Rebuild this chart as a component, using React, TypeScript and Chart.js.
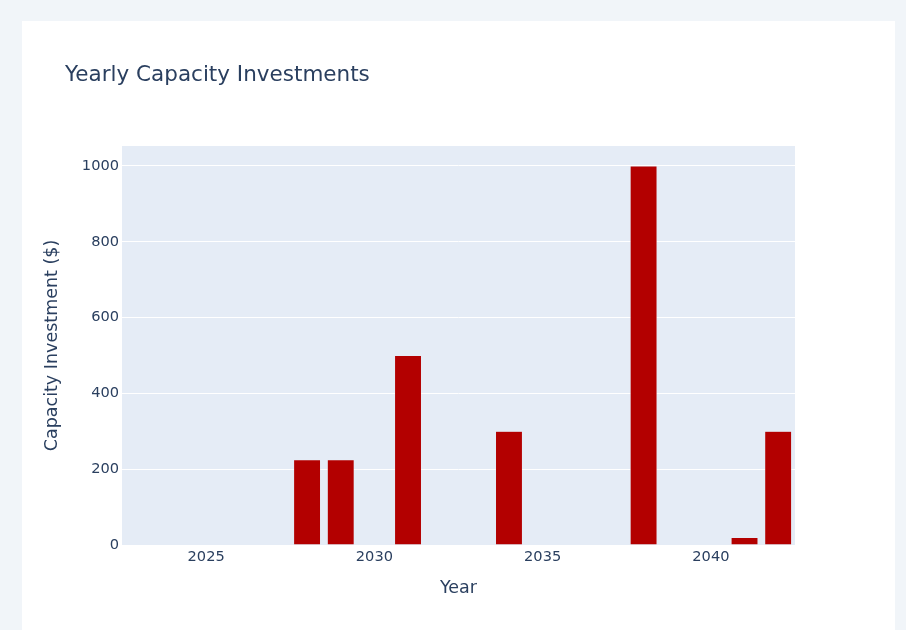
import React, { useEffect, useRef } from "react";
import { Chart, registerables } from "chart.js";

Chart.register(...registerables);

const years: string[] = [
  "2023", "2024", "2025", "2026", "2027", "2028", "2029", "2030", "2031", "2032",
  "2033", "2034", "2035", "2036", "2037", "2038", "2039", "2040", "2041", "2042",
];
const investments: number[] = [
  0, 0, 0, 0, 0, 225, 225, 0, 500, 0,
  0, 300, 0, 0, 0, 1000, 0, 0, 20, 300,
];
const yTicks: number[] = [0, 200, 400, 600, 800, 1000];
const xTickYears: string[] = ["2025", "2030", "2035", "2040"];

const titleText = "Yearly Capacity Investments";
const xTitle = "Year";
const yTitle = "Capacity Investment ($)";

const FONT = '"DejaVu Sans", Verdana, sans-serif';
const TEXT = "#2a3f5f";

const backgroundPlugin = {
  id: "pageBackground",
  beforeDraw(chart: any) {
    const { ctx, chartArea } = chart;
    ctx.save();
    ctx.fillStyle = "#f1f5f9";
    ctx.fillRect(0, 0, chart.width, chart.height);
    ctx.fillStyle = "#ffffff";
    ctx.fillRect(22, 21, 873, chart.height);
    ctx.fillStyle = "#e5ecf6";
    ctx.fillRect(chartArea.left, chartArea.top, chartArea.right - chartArea.left, chartArea.bottom - chartArea.top);
    ctx.restore();
  },
  afterDraw(chart: any) {
    const { ctx } = chart;
    ctx.save();
    ctx.font = `21.5px ${FONT}`;
    ctx.fillStyle = TEXT;
    ctx.textAlign = "left";
    ctx.textBaseline = "alphabetic";
    ctx.fillText(titleText, 65, 81);
    ctx.restore();
  },
};

export default function App() {
  const ref = useRef<HTMLCanvasElement | null>(null);

  useEffect(() => {
    if (!ref.current) return;
    const chart = new Chart(ref.current, {
      type: "bar",
      data: {
        labels: years,
        datasets: [
          {
            label: "Capacity Investment",
            data: investments,
            backgroundColor: "#b30000",
            borderColor: "#e5ecf6",
            borderWidth: 0.5,
            barPercentage: 0.8,
            categoryPercentage: 1.0,
          },
        ],
      },
      options: {
        responsive: false,
        animation: false,
        devicePixelRatio: 1,
        layout: { padding: { left: 0, top: 146, right: 111, bottom: 0 } },
        plugins: {
          legend: { display: false },
          title: { display: false },
          tooltip: { enabled: false },
        },
        scales: {
          x: {
            type: "category",
            offset: true,
            grid: { display: false, drawTicks: false },
            border: { display: false },
            ticks: {
              autoSkip: false,
              maxRotation: 0,
              padding: 3,
              color: TEXT,
              font: { family: FONT, size: 14.6 },
              callback: (_v: any, i: number) => (xTickYears.includes(years[i]) ? years[i] : ""),
            },
            title: {
              display: true,
              text: xTitle,
              color: TEXT,
              font: { family: FONT, size: 17.5 },
              padding: { top: 0, bottom: 31 },
            },
            afterFit: (scale: any) => {
              scale.height = 85;
            },
          },
          y: {
            type: "linear",
            min: 0,
            max: 1052.6,
            grid: { color: "#ffffff", lineWidth: 1, drawTicks: false },
            border: { display: false },
            afterBuildTicks: (scale: any) => {
              scale.ticks = yTicks.map((v) => ({ value: v }));
            },
            ticks: {
              includeBounds: false,
              padding: 3,
              color: TEXT,
              font: { family: FONT, size: 14.6 },
              callback: (v: any) => String(v),
            },
            title: {
              display: true,
              text: yTitle,
              color: TEXT,
              font: { family: FONT, size: 17.5 },
              padding: { top: 42, bottom: 0 },
            },
            afterFit: (scale: any) => {
              scale.width = 122;
            },
          },
        },
      },
      plugins: [backgroundPlugin],
    });
    return () => chart.destroy();
  }, []);

  return (
    <div style={{ position: "fixed", left: 0, top: 0, width: 906, height: 630 }}>
      <canvas ref={ref} width={906} height={630} style={{ display: "block" }} />
    </div>
  );
}
